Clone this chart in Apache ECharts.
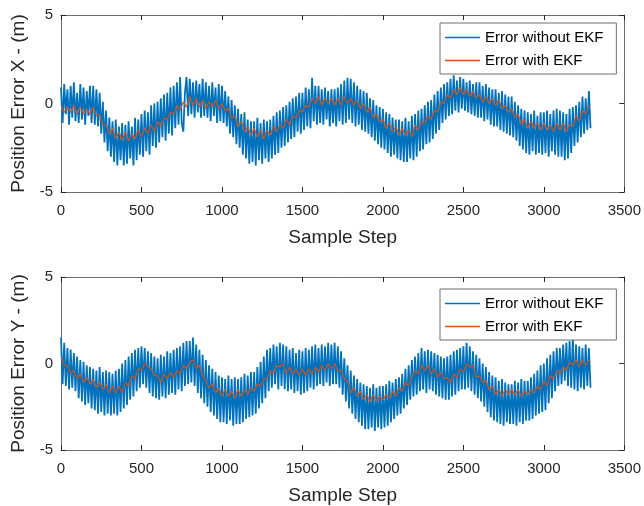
<!DOCTYPE html>
<html><head><meta charset="utf-8">
<script src="https://cdn.jsdelivr.net/npm/echarts@6/dist/echarts.min.js"></script>
<style>html,body{margin:0;padding:0;background:#fff}#c{width:644px;height:506px}</style>
</head><body><div id="c"></div>
<script>
// Sample step of each stored series (samples between stored values)
const blueStep = 10;
const redStep = 20;
const seriesNames = ['Error without EKF', 'Error with EKF'];
const xTitle = 'Sample Step';
const yTitles = ['Position Error X - (m)', 'Position Error Y - (m)'];

// Position error X, without EKF (every 10 samples)
const errXRaw = [
 0.9,-1.1,1.1,-0.6,0.8,-1.2,1.0,-0.8,1.2,-1.0,
 0.6,-1.1,1.1,-0.9,0.9,-1.2,0.7,-0.7,1.0,-1.1,
 1.0,-1.2,0.8,-1.3,0.6,-1.7,0.1,-2.2,-0.4,-2.7,
 -0.8,-3.0,-1.0,-3.3,-0.9,-3.5,-1.3,-3.2,-1.1,-3.5,
 -1.2,-3.4,-1.0,-3.1,-1.3,-3.5,-0.8,-3.2,-0.9,-2.9,
 -0.6,-3.0,-0.4,-2.7,-0.5,-2.9,-0.1,-2.4,0.0,-2.5,
 0.1,-2.2,0.3,-1.9,0.5,-2.1,0.6,-1.7,0.9,-1.8,
 1.0,-1.4,1.2,-1.2,1.5,-1.1,-1.6,0.6,1.5,-0.7,
 1.4,-0.6,1.2,-0.8,1.3,-0.5,1.1,-0.8,1.4,-0.7,
 1.2,-0.8,1.0,-1.0,1.2,-0.7,0.9,-1.1,1.1,-1.0,
 1.0,-1.1,0.7,-1.3,0.4,-1.7,0.2,-1.9,-0.1,-2.3,
 -0.3,-2.5,-0.6,-2.9,-0.5,-3.1,-0.9,-3.4,-1.0,-3.3,
 -1.0,-3.5,-0.8,-3.2,-1.1,-3.4,-0.9,-3.1,-1.0,-3.3,
 -0.9,-3.1,-0.7,-2.9,-0.5,-2.8,-0.4,-2.5,-0.2,-2.4,
 -0.1,-2.2,0.1,-2.0,0.3,-1.9,0.4,-1.6,0.6,-1.7,
 0.6,-1.5,0.9,-1.3,0.8,-1.4,1.45,-1.0,1.0,-1.2,
 1.0,-1.1,0.8,-1.2,0.9,-0.9,0.7,-1.3,0.8,-1.1,
 0.8,-1.3,0.9,-1.0,1.1,-1.2,1.3,-1.1,1.45,-0.9,
 1.4,-1.1,1.2,-1.3,1.0,-1.2,0.8,-1.5,0.7,-1.6,
 0.6,-1.7,0.3,-1.9,0.2,-2.1,-0.1,-2.3,-0.2,-2.5,
 -0.3,-2.6,-0.5,-2.8,-0.6,-3.0,-0.8,-2.9,-0.9,-3.1,
 -0.9,-3.2,-1.0,-3.3,-0.8,-3.3,-1.0,-3.1,-0.7,-3.2,
 -0.6,-3.0,-0.4,-2.7,-0.3,-2.6,-0.1,-2.3,0.1,-2.2,
 0.2,-2.0,0.5,-1.7,0.7,-1.5,0.9,-1.1,1.1,-0.9,
 1.2,-0.7,1.4,-0.6,1.6,-0.4,1.3,-0.5,1.5,-0.3,
 1.4,-0.4,1.2,-0.5,1.3,-0.6,1.1,-0.7,1.2,-0.8,
 1.2,-0.8,1.0,-1.0,1.1,-0.9,0.9,-1.2,0.8,-1.3,
 0.8,-1.3,0.6,-1.5,0.7,-1.6,0.5,-1.7,0.4,-1.8,
 0.4,-1.9,0.1,-2.1,-0.1,-2.4,-0.3,-2.6,-0.4,-2.8,
 -0.5,-2.9,-0.6,-2.7,-0.4,-2.9,-0.7,-2.8,-0.5,-2.9,
 -0.5,-2.8,-0.4,-3.0,-0.6,-2.7,-0.4,-2.9,-0.3,-3.0,
 -0.4,-3.0,-0.5,-3.2,-0.6,-3.1,-0.3,-2.8,-0.2,-2.4,
 -0.1,-2.2,0.1,-1.9,0.4,-1.7,0.3,-1.5,0.7,-1.4
];
// Position error X, with EKF (every 20 samples)
const errXEkf = [
 -0.1,-0.5,-0.2,-0.5,-0.1, -0.6,-0.2,-0.6,-0.3,-0.6, -0.2,-0.7,-0.6,-1.2,-1.2,
 -1.7,-1.4,-2.0,-1.6,-2.1, -1.6,-2.1,-1.7,-2.0,-1.5, -1.9,-1.4,-1.7,-1.2,-1.6,
 -1.0,-1.3,-0.8,-0.9,-0.5, -0.6,-0.1,-0.4,0.1,-0.2, 0.4,-0.1,0.3,-0.2,0.2,
 -0.3,0.1,-0.2,0.2,-0.3, 0.0,-0.4,-0.3,-0.8,-0.7, -1.3,-1.0,-1.6,-1.3,-1.8,
 -1.4,-1.9,-1.5,-2.0,-1.5, -1.8,-1.3,-1.6,-1.2,-1.4, -0.9,-1.2,-0.7,-0.8,-0.4,
 -0.5,-0.1,-0.2,0.3,0.0, 0.4,-0.1,0.3,0.0,0.3, -0.1,0.3,-0.1,0.4,0.0,
 0.3,-0.1,0.2,-0.3,0.0, -0.5,-0.2,-0.8,-0.6,-1.0, -0.9,-1.4,-1.1,-1.6,-1.3,
 -1.8,-1.4,-1.8,-1.5,-1.9, -1.2,-1.5,-1.0,-1.1,-0.7, -0.9,-0.4,-0.5,0.1,0.0,
 0.5,0.3,0.8,0.5,0.9, 0.5,0.8,0.4,0.7,0.3, 0.5,0.1,0.4,0.0,0.3,
 -0.1,0.2,-0.3,-0.1,-0.5, -0.3,-0.8,-0.6,-1.2,-0.9, -1.4,-1.0,-1.4,-1.1,-1.5,
 -1.1,-1.5,-1.2,-1.6,-1.1, -1.5,-1.1,-1.6,-1.2,-1.3, -0.7,-1.0,-0.4,-0.6,-0.1
];
// Position error Y, without EKF (every 10 samples)
const errYRaw = [
 1.5,-1.2,1.2,-1.3,0.9,-1.5,0.8,-1.4,0.6,-1.6,
 0.4,-2.0,0.2,-2.2,0.1,-2.4,-0.1,-2.3,-0.2,-2.6,
 -0.3,-2.7,-0.4,-2.9,-0.2,-2.8,-0.5,-3.0,-0.4,-2.9,
 -0.5,-3.0,-0.6,-2.9,-0.4,-3.0,-0.3,-2.8,0.0,-2.6,
 0.2,-2.4,0.4,-2.1,0.6,-1.9,0.8,-1.6,0.9,-1.4,
 1.0,-1.2,0.9,-1.4,0.7,-1.7,0.6,-1.9,0.4,-2.0,
 0.3,-2.1,0.5,-1.9,0.4,-2.0,0.7,-1.8,0.6,-1.7,
 0.8,-1.8,0.9,-1.5,1.0,-1.6,1.2,-1.3,1.3,-1.2,
 1.3,-1.1,1.5,-1.3,1.1,-1.7,0.8,-2.0,0.5,-2.3,
 0.2,-2.5,-0.1,-2.8,-0.3,-3.0,-0.5,-3.2,-0.7,-3.4,
 -0.8,-3.4,-0.9,-3.5,-0.7,-3.3,-0.9,-3.6,-0.8,-3.5,
 -0.9,-3.5,-0.8,-3.4,-0.6,-3.2,-0.7,-3.1,-0.5,-3.0,
 -0.5,-2.9,-0.2,-2.6,0.1,-2.3,0.4,-2.0,0.8,-1.6,
 0.9,-1.4,1.1,-1.2,1.0,-1.5,1.2,-1.3,1.1,-1.5,
 1.0,-1.6,0.8,-1.5,0.9,-1.7,0.6,-1.6,0.8,-1.8,
 0.7,-1.7,0.9,-1.6,0.8,-1.4,1.0,-1.5,1.1,-1.3,
 0.9,-1.2,1.1,-1.3,1.0,-1.1,1.2,-1.3,1.1,-1.2,
 1.2,-1.2,1.0,-1.4,0.7,-1.8,0.3,-2.2,-0.1,-2.6,
 -0.4,-2.9,-0.7,-3.2,-0.9,-3.4,-1.1,-3.6,-1.2,-3.8,
 -1.3,-3.8,-1.4,-3.7,-1.2,-3.9,-1.4,-3.7,-1.3,-3.8,
 -1.3,-3.7,-1.2,-3.6,-1.0,-3.4,-1.1,-3.2,-0.9,-3.0,
 -0.8,-2.9,-0.6,-2.6,-0.3,-2.4,-0.1,-2.1,0.2,-1.9,
 0.4,-1.8,0.6,-1.6,0.9,-1.5,0.7,-1.7,0.8,-1.5,
 0.7,-1.6,0.6,-1.8,0.5,-1.9,0.4,-2.0,0.3,-2.1,
 0.4,-2.1,0.5,-1.9,0.7,-1.8,0.8,-1.6,0.9,-1.5,
 1.0,-1.5,1.2,-1.4,1.0,-1.6,0.7,-1.8,0.5,-2.0,
 0.3,-2.2,0.0,-2.5,-0.2,-2.8,-0.5,-3.1,-0.7,-3.3,
 -0.8,-3.4,-1.0,-3.5,-0.9,-3.6,-1.1,-3.4,-1.2,-3.5,
 -1.2,-3.5,-1.0,-3.6,-1.1,-3.4,-0.9,-3.5,-1.0,-3.3,
 -1.0,-3.3,-0.8,-3.2,-0.6,-3.0,-0.4,-2.9,-0.1,-2.8,
 0.0,-2.7,0.3,-2.3,0.5,-2.0,0.7,-1.6,0.9,-1.3,
 0.9,-1.2,1.1,-1.0,1.2,-1.3,1.3,-1.4,1.5,-1.5,
 1.1,-1.6,1.0,-1.4,0.9,-1.5,1.1,-1.3,0.9,-1.4
];
// Position error Y, with EKF (every 20 samples)
const errYEkf = [
 0.4,-0.1,-0.1,-0.6,-0.4, -0.9,-0.6,-1.1,-0.8,-1.2, -0.9,-1.4,-1.1,-1.5,-1.2,
 -1.7,-1.3,-1.7,-1.3,-1.7, -1.1,-1.3,-0.7,-0.9,-0.3, -0.4,0.0,-0.2,-0.3,-0.7,
 -0.7,-1.1,-0.6,-0.9,-0.5, -0.8,-0.4,-0.6,-0.1,-0.3, 0.1,0.2,-0.3,-0.1,-0.7,
 -1.0,-1.4,-1.2,-1.7,-1.4, -1.9,-1.5,-1.9,-1.6,-2.0, -1.5,-1.9,-1.5,-1.8,-1.4,
 -1.6,-1.2,-1.3,-0.9,-0.9, -0.4,-0.6,-0.1,-0.2,0.0, -0.6,-0.2,-0.6,-0.3,-0.7,
 -0.3,-0.7,-0.3,-0.6,-0.2, -0.5,-0.1,-0.4,0.0,-0.3, 0.0,-0.4,-0.4,-0.9,-1.0,
 -1.7,-1.4,-1.9,-1.6,-2.1, -1.8,-2.2,-1.8,-2.2,-1.9, -2.1,-1.8,-2.0,-1.6,-1.9,
 -1.4,-1.6,-1.1,-1.3,-0.8, -0.4,-0.6,-0.1,-0.4,-0.1, -0.6,-0.3,-0.8,-0.5,-0.9,
 -0.8,-1.1,-0.6,-0.8,-0.3, -0.5,0.0,-0.2,-0.1,-0.8, -0.7,-1.1,-1.0,-1.5,-1.3,
 -1.8,-1.5,-1.9,-1.5,-1.8, -1.5,-1.8,-1.5,-1.9,-1.6, -1.8,-1.5,-1.7,-1.3,-1.5,
 -1.0,-1.3,-0.7,-0.9,-0.4, -0.6,-0.2,-0.4,0.1,-0.1, 0.2,-0.2,0.2,-0.1,0.2
];

const TXT = '#262626', AX = '#6e6e6e', FONT = 'Liberation Sans, Arial, sans-serif';
const BLUE = '#0072BD', RED = '#D95319';

function pairs(arr, step) { return arr.map((v, i) => [i * step, v]); }

const grids = [
  { left: 61, right: 19, top: 15, height: 177 },
  { left: 61, right: 19, top: 277, height: 174 }
];

const xAxes = [], yAxes = [];
grids.forEach((g, gi) => {
  const tick = { show: true, inside: true, length: 5, lineStyle: { color: TXT, width: 1 } };
  const line = { show: true, onZero: false, lineStyle: { color: AX, width: 1 } };
  xAxes.push({ gridIndex: gi, type: 'value', position: 'bottom', min: 0, max: 3500, interval: 500,
    axisLine: line, axisTick: tick, splitLine: { show: false },
    axisLabel: { color: TXT, fontSize: 15, margin: 11, fontFamily: FONT, formatter: v => String(v) },
    name: xTitle, nameLocation: 'middle', nameGap: 36,
    nameTextStyle: { color: TXT, fontSize: 19, fontFamily: FONT } });
  xAxes.push({ gridIndex: gi, type: 'value', position: 'top', min: 0, max: 3500, interval: 500,
    axisLine: line, axisTick: tick, splitLine: { show: false }, axisLabel: { show: false } });
  yAxes.push({ gridIndex: gi, type: 'value', position: 'left', min: -5, max: 5, interval: 5,
    axisLine: line, axisTick: tick, splitLine: { show: false },
    axisLabel: { color: TXT, fontSize: 15, margin: 8, fontFamily: FONT, formatter: v => String(v) },
    name: yTitles[gi], nameLocation: 'middle', nameGap: 28, nameRotate: 90,
    nameTextStyle: { color: TXT, fontSize: 19, fontFamily: FONT } });
  yAxes.push({ gridIndex: gi, type: 'value', position: 'right', min: -5, max: 5, interval: 5,
    axisLine: line, axisTick: tick, splitLine: { show: false }, axisLabel: { show: false } });
});

function lineSeries(name, data, gi, color, w) {
  return { name, type: 'line', data, xAxisIndex: gi * 2, yAxisIndex: gi * 2,
    symbol: 'none', showSymbol: false, lineStyle: { color, width: w }, itemStyle: { color },
    silent: true, animation: false };
}

const legendBase = (top) => ({
  orient: 'vertical', left: 440, top, data: seriesNames, icon: 'rect',
  itemWidth: 35, itemHeight: 1.5, itemGap: 8, itemTextGap: 7,
  padding: [7, 13, 6, 5], borderColor: AX, borderWidth: 1, backgroundColor: '#fff',
  textStyle: { color: '#000', fontSize: 15, lineHeight: 15, fontFamily: FONT }, selectedMode: false
});

const chart = echarts.init(document.getElementById('c'), null, { renderer: 'canvas' });
chart.setOption({
  animation: false,
  backgroundColor: '#fff',
  grid: grids,
  xAxis: xAxes,
  yAxis: yAxes,
  legend: [legendBase(23), legendBase(289)],
  series: [
    lineSeries(seriesNames[0], pairs(errXRaw, blueStep), 0, BLUE, 1.8),
    lineSeries(seriesNames[1], pairs(errXEkf, redStep), 0, RED, 1.1),
    lineSeries(seriesNames[0], pairs(errYRaw, blueStep), 1, BLUE, 1.8),
    lineSeries(seriesNames[1], pairs(errYEkf, redStep), 1, RED, 1.1)
  ]
});
</script>
</body></html>
